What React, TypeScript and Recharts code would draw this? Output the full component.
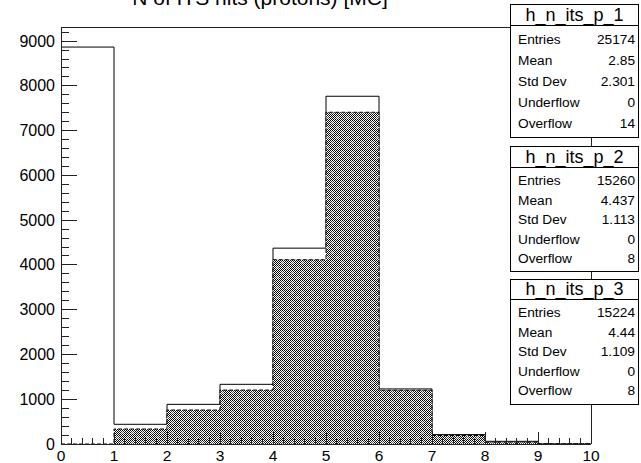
import React from "react";
import { ComposedChart, Area, XAxis, YAxis, ReferenceLine } from "recharts";

const binEdges = [0, 1, 2, 3, 4, 5, 6, 7, 8, 9, 10];
const h1Values = [8867, 440, 886, 1333, 4375, 7768, 1230, 210, 60, 5];
const h2Values = [0, 335, 759, 1205, 4116, 7410, 1200, 190, 40, 5];
const h3Values = [0, 333, 757, 1203, 4105, 7400, 1193, 189, 39, 5];
const yTicks = Array.from({ length: 47 }, (_, i) => i * 200);
const xTicks = Array.from({ length: 51 }, (_, i) => Math.round(i * 2) / 10);
const Y_MAX = 9315;
const title = "N of ITS hits (protons) [MC]";

const statNames = ["h_n_its_p_1", "h_n_its_p_2", "h_n_its_p_3"];
const statLabels = ["Entries", "Mean", "Std Dev", "Underflow", "Overflow"];
const stats1 = ["25174", "2.85", "2.301", "0", "14"];
const stats2 = ["15260", "4.437", "1.113", "0", "8"];
const stats3 = ["15224", "4.44", "1.109", "0", "8"];

const data = binEdges.map((x, i) => {
  const k = Math.min(i, h1Values.length - 1);
  return { x, h1: h1Values[k], h2: h2Values[k], h3: h3Values[k] };
});

const FONT = "'Liberation Sans', Arial, Helvetica, sans-serif";

const YTick = (props: any) => {
  const { x, y, payload } = props;
  const v = payload.value;
  const major = v % 1000 === 0;
  return (
    <g>
      <line x1={x} x2={x + (major ? 16 : 8)} y1={y} y2={y} stroke="#222" strokeWidth={1} shapeRendering="crispEdges" />
      {major && (
        <text x={x - 6} y={y} dy={5.5} textAnchor="end" fontSize={16} fontFamily={FONT} fill="#000">
          {v}
        </text>
      )}
    </g>
  );
};

const XTick = (props: any) => {
  const { x, y, payload } = props;
  const v = payload.value;
  const major = Math.abs(v - Math.round(v)) < 1e-6;
  return (
    <g>
      <line x1={x} x2={x} y1={y} y2={y - (major ? 12 : 6)} stroke="#222" strokeWidth={1} shapeRendering="crispEdges" />
      {major && (
        <text x={x} y={y} dy={17} textAnchor="middle" fontSize={15.5} fontFamily={FONT} fill="#000">
          {Math.round(v)}
        </text>
      )}
    </g>
  );
};

type BoxProps = {
  name: string;
  values: string[];
  top: number;
  sep: number;
  first: number;
  step: number;
  bottom: number;
};

const StatBox = ({ name, values, top, sep, first, step, bottom }: BoxProps) => (
  <div
    style={{
      position: "absolute",
      left: 510,
      top,
      width: 127,
      height: bottom - top - 2,
      border: "1px solid #000",
      background: "#fff",
      fontFamily: FONT,
      color: "#000",
    }}
  >
    <div
      style={{
        position: "absolute",
        left: 0,
        top: 0,
        width: 127,
        height: sep - top - 1,
        borderBottom: "1px solid #000",
        textAlign: "center",
        fontSize: 18,
        lineHeight: `${sep - top - 1}px`,
      }}
    >
      {name}
    </div>
    {statLabels.map((lab, i) => {
      const cy = first + step * i - top - 1;
      return (
        <React.Fragment key={lab}>
          <div style={{ position: "absolute", left: 7, top: cy - 9, fontSize: 13.7, lineHeight: "18px" }}>{lab}</div>
          <div style={{ position: "absolute", right: 3, top: cy - 9, fontSize: 13.7, lineHeight: "18px" }}>{values[i]}</div>
        </React.Fragment>
      );
    })}
  </div>
);

export default function App() {
  return (
    <div style={{ position: "absolute", left: 0, top: 0, width: 641, height: 463, background: "#fff", overflow: "hidden" }}>
      <svg width={0} height={0} style={{ position: "absolute" }}>
        <defs>
          <pattern id="checker" width={2} height={2} patternUnits="userSpaceOnUse">
            <rect x={0} y={0} width={2} height={2} fill="#fff" />
            <rect x={0} y={0} width={1} height={1} fill="#000" />
            <rect x={1} y={1} width={1} height={1} fill="#000" />
          </pattern>
          <pattern id="dots" width={10} height={10} patternUnits="userSpaceOnUse">
            <circle cx={2.5} cy={2.5} r={1.6} fill="#fff" fillOpacity={0.45} />
            <circle cx={7.5} cy={7.5} r={1.6} fill="#fff" fillOpacity={0.45} />
          </pattern>
        </defs>
      </svg>
      <ComposedChart width={641} height={463} data={data} margin={{ top: 27, right: 50, bottom: 0, left: 0 }}>
        <Area
          type="stepAfter"
          dataKey="h1"
          stroke="#000"
          strokeWidth={1}
          fill="#fff"
          fillOpacity={1}
          dot={false}
          activeDot={false}
          isAnimationActive={false}
        />
        <Area
          type="stepAfter"
          dataKey="h2"
          stroke="#000"
          strokeWidth={1}
          strokeDasharray="4 2"
          fill="url(#checker)"
          fillOpacity={1}
          dot={false}
          activeDot={false}
          isAnimationActive={false}
        />
        <Area
          type="stepAfter"
          dataKey="h3"
          stroke="none"
          fill="url(#dots)"
          fillOpacity={1}
          dot={false}
          activeDot={false}
          isAnimationActive={false}
        />
        <XAxis
          dataKey="x"
          type="number"
          domain={[0, 10]}
          ticks={xTicks}
          interval={0}
          height={19}
          tickSize={0}
          tickMargin={0}
          tickLine={false}
          axisLine={{ stroke: "#222", shapeRendering: "crispEdges" }}
          tick={<XTick />}
          allowDataOverflow
        />
        <YAxis
          type="number"
          domain={[0, Y_MAX]}
          ticks={yTicks}
          interval={0}
          width={61}
          tickSize={0}
          tickMargin={0}
          tickLine={false}
          axisLine={{ stroke: "#222", shapeRendering: "crispEdges" }}
          tick={<YTick />}
          allowDataOverflow
        />
        <ReferenceLine y={Y_MAX} stroke="#222" strokeWidth={1} shapeRendering="crispEdges" />
        <ReferenceLine x={10} stroke="#222" strokeWidth={1} shapeRendering="crispEdges" />
      </ComposedChart>
      <svg width={641} height={30} style={{ position: "absolute", left: 0, top: 0 }}>
        <text x={260} y={5} textAnchor="middle" fontSize={21} fontFamily={FONT} fill="#000">
          {title}
        </text>
      </svg>
      <StatBox name={statNames[0]} values={stats1} top={4} sep={25} first={40} step={21} bottom={138} />
      <StatBox name={statNames[1]} values={stats2} top={146} sep={167} first={181} step={19.5} bottom={272} />
      <StatBox name={statNames[2]} values={stats3} top={279} sep={299} first={313} step={19.5} bottom={405} />
    </div>
  );
}
